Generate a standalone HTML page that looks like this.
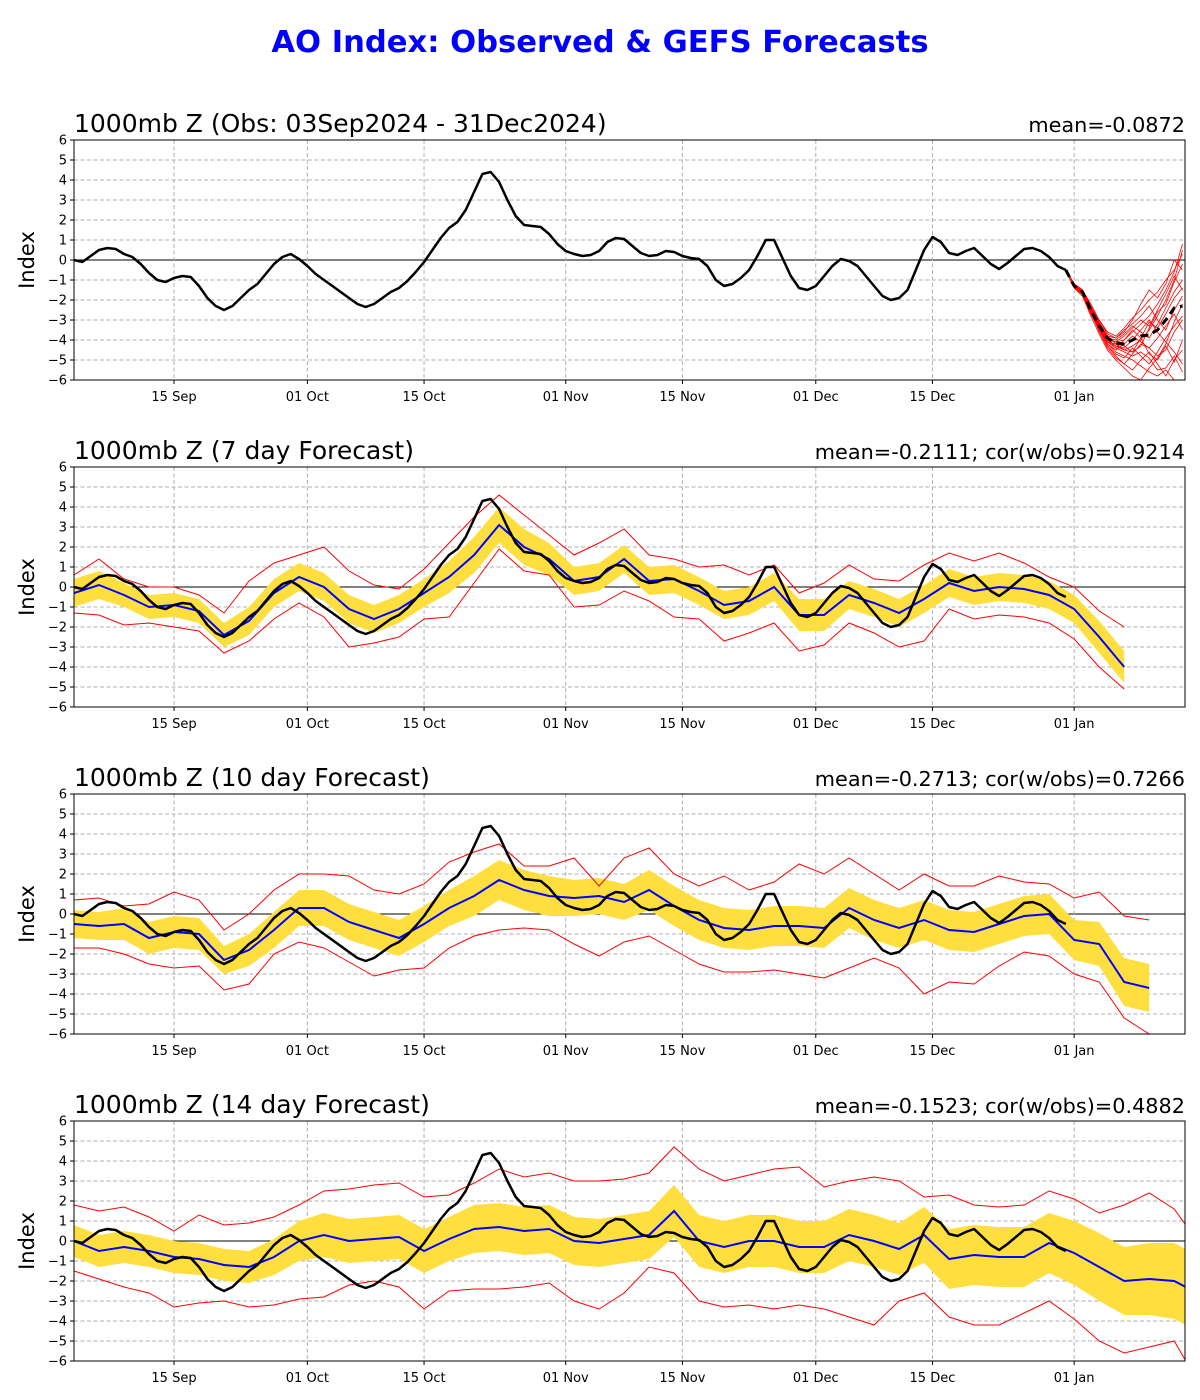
<!DOCTYPE html>
<html><head><meta charset="utf-8"><style>
body{margin:0;background:#fff;}
svg{display:block;font-family:"DejaVu Sans","Liberation Sans",sans-serif;}
</style></head><body>
<svg id="chart" width="1200" height="1400" viewBox="0 0 1200 1400" xmlns="http://www.w3.org/2000/svg">
<rect width="1200" height="1400" fill="#fff"/>
<text x="600" y="52" text-anchor="middle" font-size="30.6" font-weight="bold" fill="#0000ff">AO Index: Observed &amp; GEFS Forecasts</text>
</svg>
<script>
const xTickLabels = ["15 Sep","01 Oct","15 Oct","01 Nov","15 Nov","01 Dec","15 Dec","01 Jan"];
const xTickDays = [12,28,42,59,73,89,103,120];
const yTicks = [-6,-5,-4,-3,-2,-1,0,1,2,3,4,5,6];
const panelTitles = ["1000mb Z (Obs: 03Sep2024 - 31Dec2024)","1000mb Z (7 day Forecast)","1000mb Z (10 day Forecast)","1000mb Z (14 day Forecast)"];
const panelStats = ["mean=-0.0872","mean=-0.2111; cor(w/obs)=0.9214","mean=-0.2713; cor(w/obs)=0.7266","mean=-0.1523; cor(w/obs)=0.4882"];
const obs = [0,-0.1,0.2,0.5,0.6,0.55,0.3,0.15,-0.2,-0.65,-1.0,-1.1,-0.9,-0.8,-0.85,-1.3,-1.9,-2.3,-2.5,-2.3,-1.9,-1.5,-1.2,-0.7,-0.2,0.15,0.3,0.05,-0.3,-0.7,-1.0,-1.3,-1.6,-1.9,-2.2,-2.35,-2.2,-1.9,-1.6,-1.4,-1.05,-0.6,-0.1,0.5,1.1,1.6,1.9,2.5,3.4,4.3,4.4,3.9,3.0,2.2,1.75,1.7,1.65,1.3,0.8,0.45,0.3,0.2,0.25,0.45,0.9,1.1,1.05,0.7,0.35,0.2,0.25,0.45,0.4,0.2,0.1,0.05,-0.3,-1.0,-1.3,-1.2,-0.9,-0.5,0.2,1.0,1.0,0.1,-0.8,-1.4,-1.5,-1.3,-0.8,-0.3,0.05,-0.05,-0.3,-0.8,-1.3,-1.8,-2.0,-1.9,-1.5,-0.5,0.5,1.15,0.9,0.35,0.25,0.45,0.6,0.2,-0.2,-0.45,-0.15,0.2,0.55,0.6,0.45,0.15,-0.3,-0.5];
const ensDays = [119,120,121,122,123,124,125,126,127,128,129,130,131,132,133];
const ensMean = [-0.5,-1.3,-1.6,-2.5,-3.3,-3.9,-4.15,-4.2,-4.0,-3.8,-3.75,-3.5,-3.0,-2.4,-2.3];
const ens1 = [-0.5,-1.2,-1.5,-2.3,-3.2,-4.0,-4.3,-4.5,-4.3,-4.0,-3.5,-2.8,-2.0,-1.0,0.5];
const ens2 = [-0.5,-1.3,-1.7,-2.6,-3.4,-4.2,-4.6,-4.8,-5.0,-5.3,-5.6,-5.8,-5.5,-6.0,-6.0];
const ens3 = [-0.5,-1.2,-1.6,-2.4,-3.0,-3.6,-3.8,-3.4,-2.9,-2.5,-2.0,-1.6,-1.0,-0.5,0.3];
const ens4 = [-0.5,-1.4,-1.8,-2.7,-3.5,-4.3,-4.8,-5.2,-5.5,-5.0,-4.6,-5.2,-5.8,-5.0,-4.5];
const ens5 = [-0.5,-1.3,-1.6,-2.5,-3.3,-3.9,-4.0,-3.7,-3.3,-3.6,-3.9,-3.2,-2.4,-1.6,-1.0];
const ens6 = [-0.5,-1.2,-1.5,-2.3,-3.1,-3.8,-4.2,-4.5,-4.6,-4.3,-3.4,-2.6,-2.2,-1.1,-0.2];
const ens7 = [-0.5,-1.3,-1.7,-2.6,-3.6,-4.4,-4.9,-5.2,-4.7,-4.2,-4.4,-4.8,-4.5,-3.6,-3.0];
const ens8 = [-0.5,-1.3,-1.6,-2.4,-3.2,-3.8,-3.9,-3.5,-3.2,-2.8,-2.3,-3.0,-3.5,-2.5,-1.8];
const ens9 = [-0.5,-1.4,-1.7,-2.6,-3.4,-4.1,-4.4,-4.6,-4.8,-4.6,-4.9,-5.5,-5.4,-4.8,-5.6];
const ens10 = [-0.5,-1.2,-1.6,-2.5,-3.3,-4.0,-4.1,-4.0,-3.6,-3.2,-2.8,-2.2,-1.5,-0.6,0.8];
const ens11 = [-0.5,-1.3,-1.7,-2.5,-3.4,-4.2,-4.5,-4.2,-3.8,-4.1,-4.4,-3.9,-3.3,-2.7,-3.5];
const ens12 = [-0.5,-1.3,-1.6,-2.4,-3.3,-4.0,-4.3,-4.4,-4.0,-3.5,-3.0,-3.6,-4.1,-4.6,-5.2];
const ens13 = [-0.5,-1.2,-1.5,-2.2,-3.0,-3.7,-3.9,-3.6,-3.0,-2.2,-1.5,-1.9,-1.2,0.0,-0.5];
const ens14 = [-0.5,-1.4,-1.8,-2.8,-3.7,-4.5,-5.0,-5.4,-5.8,-6.0,-5.4,-4.9,-4.2,-3.1,-2.2];
const ens15 = [-0.5,-1.3,-1.6,-2.4,-3.2,-4.1,-4.2,-4.3,-4.6,-3.9,-3.1,-3.4,-2.7,-1.9,-1.4];
const ens16 = [-0.5,-1.3,-1.7,-2.6,-3.5,-4.0,-4.4,-4.0,-3.5,-3.9,-4.7,-5.0,-4.3,-5.1,-4.0];
const ens17 = [-0.5,-1.2,-1.5,-2.3,-3.1,-3.9,-4.1,-3.8,-3.4,-3.0,-3.3,-2.5,-1.7,-0.8,-1.5];
const ens18 = [-0.5,-1.3,-1.6,-2.5,-3.4,-4.3,-4.7,-4.9,-4.4,-4.8,-5.2,-4.6,-3.9,-3.3,-2.8];
const f7Days = [0,3,6,9,12,15,18,21,24,27,30,33,36,39,42,45,48,51,54,57,60,63,66,69,72,75,78,81,84,87,90,93,96,99,102,105,108,111,114,117,120,123,126];
const f7Mean = [-0.3,0.1,-0.4,-1.0,-0.9,-1.2,-2.4,-1.7,-0.3,0.5,0.0,-1.1,-1.6,-1.1,-0.3,0.5,1.6,3.1,2.0,1.4,0.3,0.5,1.4,0.3,0.4,-0.2,-0.9,-0.7,0.0,-1.4,-1.4,-0.4,-0.8,-1.3,-0.6,0.2,-0.2,0.0,-0.1,-0.4,-1.1,-2.5,-4.0];
const f7Spread = [0.7,0.7,0.6,0.6,0.6,0.6,0.6,0.7,0.7,0.7,0.7,0.7,0.7,0.7,0.7,0.8,0.9,0.9,0.9,0.8,0.7,0.7,0.7,0.7,0.7,0.7,0.7,0.7,0.7,0.8,0.8,0.7,0.7,0.7,0.7,0.7,0.7,0.7,0.7,0.7,0.7,0.8,0.8];
const f7Hi = [0.6,1.4,0.4,0.0,0.0,-0.4,-1.3,0.3,1.2,1.6,2.0,0.8,0.1,-0.1,0.9,2.2,3.5,4.6,3.6,2.6,1.6,2.2,2.9,1.6,1.4,1.0,1.1,0.6,1.1,-0.3,0.2,1.1,0.4,0.3,1.1,1.7,1.3,1.7,1.2,0.5,0.0,-1.2,-2.0];
const f7Lo = [-1.3,-1.4,-1.9,-1.8,-2.0,-2.2,-3.3,-2.7,-1.6,-0.8,-1.5,-3.0,-2.8,-2.5,-1.6,-1.5,0.2,1.9,0.8,0.6,-1.0,-0.9,-0.2,-0.7,-1.5,-1.6,-2.7,-2.3,-1.8,-3.2,-2.9,-1.8,-2.3,-3.0,-2.7,-1.1,-1.6,-1.4,-1.5,-1.8,-2.6,-4.0,-5.1];
const f10Days = [0,3,6,9,12,15,18,21,24,27,30,33,36,39,42,45,48,51,54,57,60,63,66,69,72,75,78,81,84,87,90,93,96,99,102,105,108,111,114,117,120,123,126,129];
const f10Mean = [-0.5,-0.6,-0.5,-1.2,-0.9,-1.0,-2.3,-1.8,-0.8,0.3,0.3,-0.4,-0.8,-1.2,-0.5,0.3,0.9,1.7,1.2,0.9,0.8,0.9,0.6,1.2,0.4,-0.3,-0.7,-0.8,-0.6,-0.6,-0.7,0.3,-0.3,-0.7,-0.3,-0.8,-0.9,-0.5,-0.1,0.0,-1.3,-1.5,-3.4,-3.7];
const f10Spread = [0.7,0.7,0.8,0.8,0.8,0.8,0.7,0.8,0.9,0.9,0.9,0.9,0.9,0.9,0.9,0.9,1.0,1.0,1.0,1.0,0.9,0.9,0.9,1.0,1.0,1.0,1.0,1.0,1.0,1.0,1.0,1.0,1.0,1.0,1.0,1.0,1.0,1.0,1.0,1.0,1.0,1.1,1.2,1.2];
const f10Hi = [0.7,0.8,0.4,0.5,1.1,0.7,-0.8,0.0,1.2,2.0,2.0,1.9,1.2,1.0,1.5,2.6,3.1,3.5,2.4,2.4,2.8,1.4,2.8,3.3,2.0,1.4,1.9,1.2,1.6,2.5,2.0,2.8,2.0,1.2,2.0,1.4,1.4,1.9,1.6,1.5,0.8,1.1,-0.1,-0.3];
const f10Lo = [-1.7,-1.7,-2.0,-2.5,-2.7,-2.6,-3.8,-3.5,-2.0,-1.4,-1.7,-2.4,-3.1,-2.8,-2.7,-1.7,-1.1,-0.8,-0.7,-0.8,-1.5,-2.1,-1.4,-1.1,-1.8,-2.5,-2.9,-2.9,-2.8,-3.0,-3.2,-2.7,-2.2,-2.7,-4.0,-3.4,-3.5,-2.6,-1.9,-2.1,-3.0,-3.4,-5.2,-6.0];
const f14Days = [0,3,6,9,12,15,18,21,24,27,30,33,36,39,42,45,48,51,54,57,60,63,66,69,72,75,78,81,84,87,90,93,96,99,102,105,108,111,114,117,120,123,126,129,132,133.4];
const f14Mean = [0.0,-0.5,-0.3,-0.5,-0.8,-0.9,-1.2,-1.3,-0.8,0.0,0.3,0.0,0.1,0.2,-0.5,0.1,0.6,0.7,0.5,0.6,0.0,-0.1,0.1,0.3,1.5,0.0,-0.3,0.0,0.0,-0.3,-0.3,0.3,0.0,-0.4,0.3,-0.9,-0.7,-0.8,-0.8,-0.1,-0.6,-1.3,-2.0,-1.9,-2.0,-2.3];
const f14Spread = [0.8,0.8,0.8,0.8,0.8,0.8,0.8,0.8,0.9,1.0,1.1,1.1,1.1,1.1,1.1,1.1,1.2,1.2,1.2,1.2,1.2,1.2,1.2,1.2,1.3,1.3,1.3,1.3,1.3,1.3,1.3,1.3,1.3,1.3,1.4,1.5,1.5,1.5,1.5,1.5,1.6,1.7,1.7,1.8,1.9,1.9];
const f14Hi = [1.8,1.5,1.7,1.2,0.5,1.3,0.8,0.9,1.2,1.8,2.5,2.6,2.8,2.9,2.2,2.3,2.9,3.6,3.2,3.4,3.0,3.0,3.1,3.4,4.7,3.6,3.0,3.3,3.6,3.7,2.7,3.0,3.2,3.0,2.2,2.3,1.8,1.7,1.8,2.5,2.1,1.4,1.8,2.4,1.6,0.8];
const f14Lo = [-1.5,-1.9,-2.3,-2.6,-3.3,-3.1,-3.0,-3.3,-3.2,-2.9,-2.8,-2.2,-2.0,-2.3,-3.4,-2.5,-2.4,-2.4,-2.3,-2.1,-3.0,-3.4,-2.6,-1.3,-1.6,-3.0,-3.3,-3.2,-3.4,-3.2,-3.4,-3.8,-4.2,-3.0,-2.6,-3.8,-4.2,-4.2,-3.6,-3.0,-3.9,-5.0,-5.6,-5.3,-5.0,-6.0];

const NS = "http://www.w3.org/2000/svg";
const svg = document.getElementById('chart');
const X0 = 74, X1 = 1185, DMAX = 133.3;
const panelTops = [140, 467, 794, 1121];
const PH = 240;
function xs(d){ return X0 + d/DMAX*(X1-X0); }
function mk(tag, attrs, parent){ const e=document.createElementNS(NS,tag); for(const k in attrs) e.setAttribute(k,attrs[k]); (parent||svg).appendChild(e); return e; }
function pathOf(days, vals, ys){ return vals.map((v,i)=>(i?'L':'M')+xs(days[i]).toFixed(1)+','+ys(v).toFixed(1)).join(''); }
const obsDays = obs.map((v,i)=>i);

panelTops.forEach((top, p)=>{
  const ys = v => top + (6 - v)/12*PH;
  const g = mk('g', {});
  
  
  const clipId = 'clip'+p;
  const cp = mk('clipPath',{id:clipId},g); mk('rect',{x:X0,y:top,width:X1-X0,height:PH},cp);
  yTicks.forEach(v=>{
    if(v===-6||v===6) return;
    const l = mk('line',{x1:X0,x2:X1,y1:ys(v),y2:ys(v),stroke:v===0?'#000':'#b0b0b0','stroke-width':1,'stroke-dasharray':v===0?'':'4,2.5'},g);
    
    
  });
  xTickDays.forEach(d=>{
    const l = mk('line',{x1:xs(d),x2:xs(d),y1:top,y2:top+PH,stroke:'#b0b0b0','stroke-dasharray':'4,2.5'},g);
    
    
  });
  const cg = mk('g',{'clip-path':'url(#'+clipId+')'},g);
  if(p===0){
    const ensList=[ens1,ens2,ens3,ens4,ens5,ens6,ens7,ens8,ens9,ens10,ens11,ens12,ens13,ens14,ens15,ens16,ens17,ens18];
    ensList.forEach(m=>{
      const e = mk('path',{d:pathOf(ensDays,m,ys),fill:'none',stroke:'#ff0000','stroke-width':0.8},cg);
      
      
    });
    const o = mk('path',{d:pathOf(obsDays,obs,ys),fill:'none',stroke:'#000','stroke-width':2.5,'stroke-linejoin':'round'},cg);
    
    
    const em = mk('path',{d:pathOf(ensDays,ensMean,ys),fill:'none',stroke:'#000','stroke-width':3,'stroke-dasharray':'8,5'},cg);
    
    
  } else {
    const sets = [[f7Days,f7Mean,f7Spread,f7Hi,f7Lo],[f10Days,f10Mean,f10Spread,f10Hi,f10Lo],[f14Days,f14Mean,f14Spread,f14Hi,f14Lo]][p-1];
    const [days,mean,spr,hi,lo] = sets;
    let dB = mean.map((v,i)=>(i?'L':'M')+xs(days[i]).toFixed(1)+','+ys(v+spr[i]).toFixed(1)).join('');
    for(let i=mean.length-1;i>=0;i--) dB += 'L'+xs(days[i]).toFixed(1)+','+ys(mean[i]-spr[i]).toFixed(1);
    const band = mk('path',{d:dB+'Z',fill:'#ffdf40',stroke:'none'},cg);
    
    
    const rh = mk('path',{d:pathOf(days,hi,ys),fill:'none',stroke:'#ff0000','stroke-width':1},cg);
    
    
    const rl = mk('path',{d:pathOf(days,lo,ys),fill:'none',stroke:'#ff0000','stroke-width':1},cg);
    
    
    const bm = mk('path',{d:pathOf(days,mean,ys),fill:'none',stroke:'#0000ff','stroke-width':2},cg);
    
    
    const o = mk('path',{d:pathOf(obsDays,obs,ys),fill:'none',stroke:'#000','stroke-width':2.5,'stroke-linejoin':'round'},cg);
    
    
  }
  const fr = mk('rect',{x:X0,y:top,width:X1-X0,height:PH,fill:'none',stroke:'#000','stroke-width':1},g);
  
  
  yTicks.forEach(v=>{
    mk('line',{x1:X0-4,x2:X0,y1:ys(v),y2:ys(v),stroke:'#000'},g);
    const t = mk('text',{x:X0-7,y:ys(v)+4.5,'text-anchor':'end','font-size':13},g);
    t.textContent = v<0 ? '\u2212'+Math.abs(v) : String(v);
    
    
  });
  xTickDays.forEach((d,i)=>{
    mk('line',{x1:xs(d),x2:xs(d),y1:top+PH,y2:top+PH+4,stroke:'#000'},g);
    const t = mk('text',{x:xs(d),y:top+PH+21,'text-anchor':'middle','font-size':13},g);
    t.textContent = xTickLabels[i];
    
    
  });
  const tt = mk('text',{x:X0,y:top-8,'font-size':25},g);
  tt.textContent = panelTitles[p];
  
  
  const st = mk('text',{x:X1,y:top-8,'text-anchor':'end','font-size':20.8},g);
  st.textContent = panelStats[p];
  
  
  const yl = mk('text',{x:34,y:top+PH/2,'text-anchor':'middle','font-size':21,transform:'rotate(-90 34 '+(top+PH/2)+')'},g);
  yl.textContent = 'Index';
  
  
});
</script>
</body></html>
